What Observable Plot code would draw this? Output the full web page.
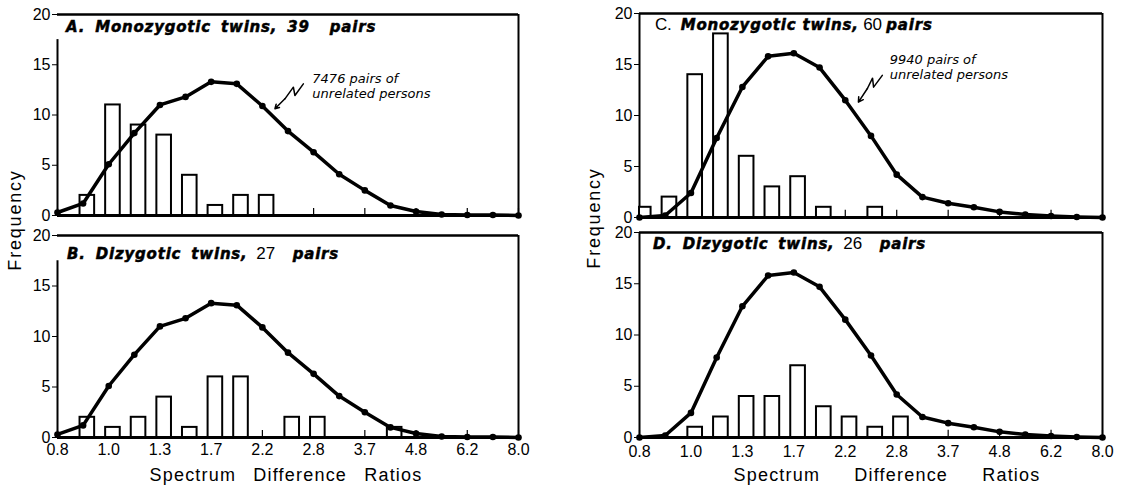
<!DOCTYPE html>
<html>
<head>
<meta charset="utf-8">
<script src="https://cdn.jsdelivr.net/npm/d3@7"></script>
<script src="https://cdn.jsdelivr.net/npm/@observablehq/plot@0.6"></script>
<style>
  body { margin: 0; background: #fff; }
  #root { position: relative; width: 1124px; height: 491px; overflow: hidden; background: #fff;
          font-family: "Liberation Sans", Arial, sans-serif; color: #000; }
  .panel { position: absolute; }
  .title { position: absolute; white-space: nowrap; font-size: 16px; line-height: 16px; }
  .title b { font-family: "DejaVu Sans", sans-serif; font-weight: 900; font-style: italic; font-size: 15px;
             letter-spacing: 0.8px; -webkit-text-stroke: 0.5px #000; }
  .title span { font-family: "Liberation Sans", Arial, sans-serif; font-size: 17px; }
  .xlabel { position: absolute; white-space: nowrap; font-size: 18px; line-height: 18px; letter-spacing: 1.2px; transform: translateX(-50%); }
  .ylabel { position: absolute; white-space: nowrap; font-size: 18px; line-height: 18px; letter-spacing: 1.8px;
            transform: translate(-50%, -50%) rotate(-90deg); }
</style>
</head>
<body>
<div id="root"></div>
<script>
// ---- data ----
const ratioTicks = ["0.8", "1.0", "1.3", "1.7", "2.2", "2.8", "3.7", "4.8", "6.2", "8.0"];
const tickIndex = [0, 2, 4, 6, 8, 10, 12, 14, 16, 18];

// curve of unrelated persons (frequency, %), one value per ratio class
const unrelated7476 = [0.3, 1.2, 5.1, 8.2, 11.0, 11.8, 13.3, 13.1, 10.9, 8.4, 6.3, 4.1, 2.5, 1.0, 0.4, 0.1, 0.05, 0.05, 0];
const unrelated9940 = [0, 0.2, 2.4, 7.8, 12.8, 15.8, 16.1, 14.7, 11.5, 8.0, 4.2, 2.0, 1.4, 1.0, 0.55, 0.3, 0.15, 0.05, 0];

// twin pair counts per ratio class
const monoA = [0, 2, 11, 9, 8, 4, 1, 2, 2, 0, 0, 0, 0, 0, 0, 0, 0, 0, 0];
const diB   = [0, 2, 1, 2, 4, 1, 6, 6, 0, 2, 2, 0, 0, 1, 0, 0, 0, 0, 0];
const monoC = [1, 2, 14, 18, 6, 3, 4, 1, 0, 1, 0, 0, 0, 0, 0, 0, 0, 0, 0];
const diD   = [0, 0, 1, 2, 4, 4, 7, 3, 2, 1, 2, 0, 0, 0, 0, 0, 0, 0, 0];

const noteA = "7476 pairs of\nunrelated persons";
const noteC = "9940 pairs of\nunrelated persons";

// ---- drawing ----
const root = document.getElementById("root");

function panel({curve, bars, left, top, width, height, mt, mb, ml, mr, xAxis, leftTop, xPad, note, noteAt, squiggle, tip}) {
  const curveData = curve.map((v, i) => ({i, v}));
  const barData = bars.map((v, i) => ({i, v})).filter(d => d.v > 0);
  const marks = [
    Plot.ruleY([20], {x1: 0, x2: 18, strokeWidth: 2.5}),
    Plot.ruleX([18], {y1: 0, y2: 20, strokeWidth: 2}),
    Plot.ruleX([0], {y1: 0, y2: leftTop, strokeWidth: 2}),
    Plot.ruleX(tickIndex, {y1: 0, y2: 0.7, strokeWidth: 1.2}),
    Plot.rectY(barData, {x1: d => Math.max(0, d.i - 0.12), x2: d => d.i + 0.45, y1: 0, y2: "v",
                         fill: "white", stroke: "black", strokeWidth: 2}),
    Plot.ruleY([0], {x1: 0, x2: 18, strokeWidth: 3}),
    Plot.line(curveData, {x: "i", y: "v", strokeWidth: 3.5, strokeLinejoin: "round"}),
    Plot.dot(curveData, {x: "i", y: "v", r: 3.3, fill: "black"})
  ];
  if (note) {
    marks.push(Plot.text([note], {x: noteAt[0], y: noteAt[1], text: d => d, textAnchor: "start", lineAnchor: "top",
      fontSize: 13, fontStyle: "italic", fontFamily: "DejaVu Sans, sans-serif", lineHeight: 1.15}));
    marks.push(Plot.line(squiggle, {x: "x", y: "y", strokeWidth: 1.5}));
    const last = squiggle[squiggle.length - 1];
    marks.push(Plot.arrow([{x1: last.x, y1: last.y, x2: tip.x, y2: tip.y}],
      {x1: "x1", y1: "y1", x2: "x2", y2: "y2", strokeWidth: 1.5, headLength: 9}));
  }
  const svg = Plot.plot({
    width, height,
    marginTop: mt, marginBottom: mb, marginLeft: ml, marginRight: mr,
    style: {fontFamily: "Liberation Sans, Arial, sans-serif", fontSize: "16px", color: "black",
            background: "transparent", overflow: "visible"},
    x: {domain: [0, 18], ticks: tickIndex, tickFormat: d => ratioTicks[tickIndex.indexOf(d)],
        tickSize: 0, tickPadding: xPad, label: null, axis: xAxis ? "bottom" : null},
    y: {domain: [0, 20], ticks: [0, 5, 10, 15, 20], tickSize: 5, tickPadding: 2, label: null},
    marks
  });
  svg.classList.add("panel");
  svg.style.left = left + "px";
  svg.style.top = top + "px";
  root.appendChild(svg);
}

panel({curve: unrelated7476, bars: monoA, left: 0, top: 0, width: 540, height: 220, mt: 14, mb: 5, ml: 57, mr: 22,
       xAxis: false, leftTop: 17.5, xPad: 4, note: noteA, noteAt: [9.95, 14.2],
       squiggle: [{x: 9.60, y: 13.10}, {x: 9.27, y: 11.94}, {x: 9.21, y: 12.77}, {x: 8.88, y: 11.61}],
       tip: {x: 8.49, y: 10.62}});
panel({curve: unrelated7476, bars: diB, left: 0, top: 220, width: 540, height: 271, mt: 15, mb: 54, ml: 57, mr: 22,
       xAxis: true, leftTop: 17.5, xPad: 6});
panel({curve: unrelated9940, bars: monoC, left: 580, top: 0, width: 544, height: 221, mt: 13, mb: 4, ml: 59, mr: 22,
       xAxis: false, leftTop: 20, xPad: 6, note: noteC, noteAt: [9.73, 16.1],
       squiggle: [{x: 9.44, y: 13.93}, {x: 9.10, y: 12.78}, {x: 9.06, y: 13.66}, {x: 8.86, y: 12.65}],
       tip: {x: 8.51, y: 11.31}});
panel({curve: unrelated9940, bars: diD, left: 580, top: 221, width: 544, height: 270, mt: 11, mb: 54, ml: 59, mr: 22,
       xAxis: true, leftTop: 20, xPad: 8});

function html(cls, style, inner) {
  const d = document.createElement("div");
  d.className = cls;
  Object.assign(d.style, style);
  d.innerHTML = inner;
  root.appendChild(d);
}
html("title", {left: "66px", top: "19px", wordSpacing: "4px"}, "<b>A. Monozygotic twins, 39&nbsp; pairs</b>");
html("title", {left: "67px", top: "246px", wordSpacing: "4px"}, "<b>B. Dizygotic twins,</b><span> 27 &nbsp;</span><b>pairs</b>");
html("title", {left: "655px", top: "17px", letterSpacing: "-0.2px"}, "<span>C.&nbsp; </span><b>Monozygotic twins,</b><span> 60 </span><b>pairs</b>");
html("title", {left: "653px", top: "236px", wordSpacing: "4px"}, "<b>D. Dizygotic twins,</b><span> 26 &nbsp;</span><b>pairs</b>");

html("xlabel", {left: "286px", top: "466px", wordSpacing: "11px"}, "Spectrum Difference Ratios");
html("xlabel", {left: "887px", top: "466px", wordSpacing: "28px"}, "Spectrum Difference Ratios");
html("ylabel", {left: "15px", top: "220px"}, "Frequency");
html("ylabel", {left: "594px", top: "218px"}, "Frequency");
</script>
</body>
</html>
